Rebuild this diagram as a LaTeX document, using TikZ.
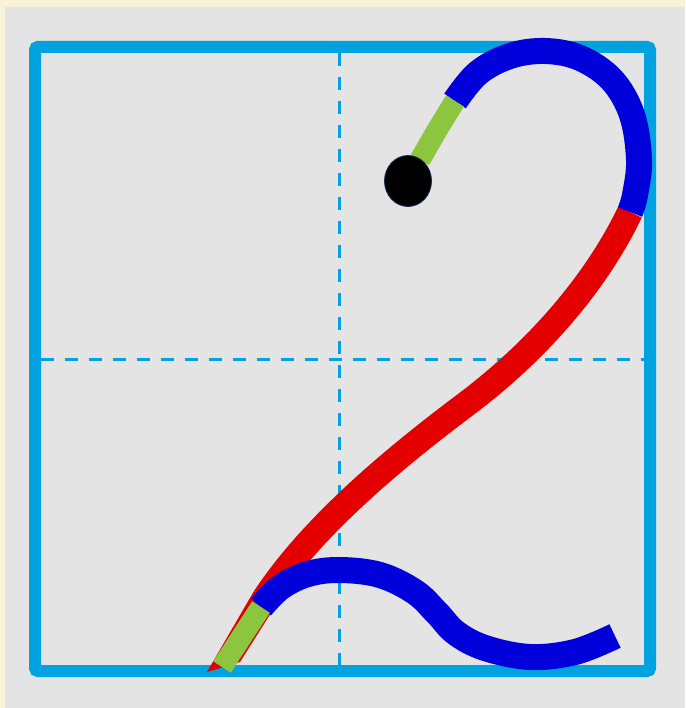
\documentclass[tikz,border=0pt]{standalone}
\usepackage{tikz}
\usetikzlibrary{shapes.geometric}

\definecolor{cream}{RGB}{248,243,214}
\definecolor{panel}{RGB}{228,228,228}
\definecolor{framecyan}{RGB}{0,163,224}
\definecolor{penblue}{RGB}{0,0,218}
\definecolor{penred}{RGB}{228,0,0}
\definecolor{pengreen}{RGB}{140,198,63}
\definecolor{dotrim}{RGB}{20,40,80}

\begin{document}
\begin{tikzpicture}[x=1pt, y=-1pt,
    frameline/.style={draw=framecyan, line width=12pt, rounded corners=3pt},
    gridline/.style={draw=framecyan, line width=3pt, dash pattern=on 13pt off 11pt},
    blueline/.style={draw=penblue, line width=26pt, line cap=butt},
    redline/.style={draw=penred, line width=26pt, line cap=butt},
    greenline/.style={draw=pengreen, line width=21pt, line cap=butt}]

        % background and panel
        \fill[cream] (0,0) rectangle (685,708);
        \fill[panel] (5,7) rectangle (685,708);
        \useasboundingbox (0,0) rectangle (685,708);

        % writing grid
        \coordinate (gridTop) at (339,53);
        \coordinate (gridBottom) at (339,665);
        \coordinate (gridLeft) at (41,359);
        \coordinate (gridRight) at (644,359);
        \draw[gridline] (gridTop) -- (gridBottom);
        \draw[gridline] (gridLeft) -- (gridRight);
        \draw[frameline] (35,47) rectangle (650,671);

        % red diagonal stroke
        \coordinate (redTop) at (630,212);
        \coordinate (redMid) at (465,405);
        \coordinate (redLow) at (265,598);
        \draw[redline] (redTop) .. controls (600,275) and (545,345) .. (redMid)
            .. controls (385,465) and (310,530) .. (redLow);
        \fill[penred] (254,591) -- (207,672) -- (240,662) -- (276,605) -- cycle;

        % lower wave stroke
        \draw[blueline] plot[smooth, tension=0.6] coordinates {(261,607) (281,587) (308,574) (340,570) (380,575) (415,592) (437,613) (456,633) (485,648) (530,657) (575,652) (615,636)};
        \draw[greenline] (261,607) -- (222,667);

        % top hook
        \draw[blueline] plot[smooth, tension=0.6] coordinates {(455,101) (478,73) (510,56) (545,51) (580,58) (612,80) (632,115) (639,160) (635,195) (630,212)};
        \draw[greenline] plot[smooth] coordinates {(420,160) (436,132) (455,101)};

        % start dot
        \node[draw=dotrim, line width=0.8pt, fill=black, ellipse, minimum width=47pt, minimum height=51pt, inner sep=0pt] (startDot) at (408,181) {};

    \end{tikzpicture}
\end{document}
